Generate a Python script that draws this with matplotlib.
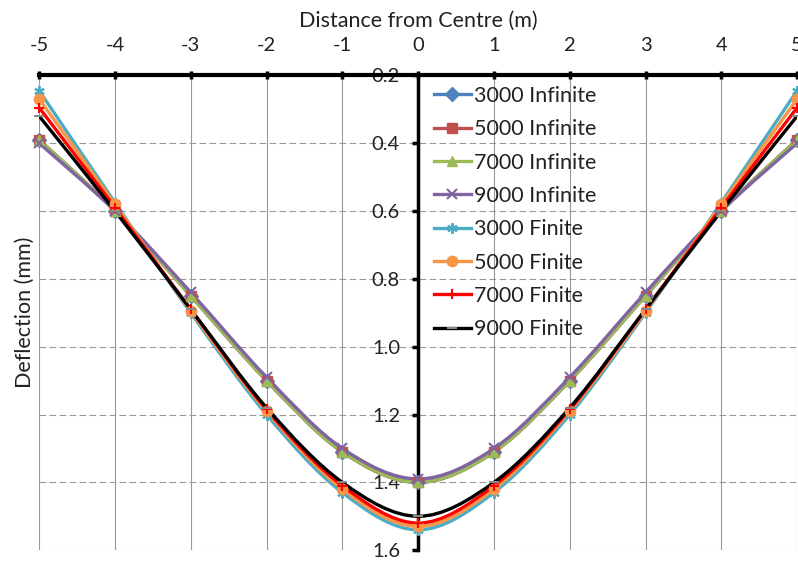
import numpy as np
import matplotlib.pyplot as plt
from matplotlib.path import Path
from matplotlib.patches import PathPatch
from matplotlib.lines import Line2D

plt.rcParams['font.family'] = ['Lato', 'DejaVu Sans']

distance = [-5, -4, -3, -2, -1, 0, 1, 2, 3, 4, 5]

inf_3000 = [0.39, 0.60, 0.85, 1.10, 1.31, 1.40, 1.31, 1.10, 0.85, 0.60, 0.39]
inf_5000 = [0.39, 0.60, 0.85, 1.10, 1.31, 1.40, 1.31, 1.10, 0.85, 0.60, 0.39]
inf_7000 = [0.39, 0.60, 0.85, 1.10, 1.31, 1.40, 1.31, 1.10, 0.85, 0.60, 0.39]
inf_9000 = [0.40, 0.60, 0.84, 1.09, 1.30, 1.39, 1.30, 1.09, 0.84, 0.60, 0.40]
fin_3000 = [0.245, 0.575, 0.90, 1.20, 1.43, 1.54, 1.43, 1.20, 0.90, 0.575, 0.245]
fin_5000 = [0.27, 0.58, 0.895, 1.19, 1.42, 1.53, 1.42, 1.19, 0.895, 0.58, 0.27]
fin_7000 = [0.295, 0.59, 0.89, 1.185, 1.41, 1.52, 1.41, 1.185, 0.89, 0.59, 0.295]
fin_9000 = [0.32, 0.60, 0.89, 1.18, 1.40, 1.50, 1.40, 1.18, 0.89, 0.60, 0.32]

labels = ['3000 Infinite', '5000 Infinite', '7000 Infinite', '9000 Infinite',
          '3000 Finite', '5000 Finite', '7000 Finite', '9000 Finite']
colors = ['#4F81BD', '#C0504D', '#9BBB59', '#8064A2',
          '#4BACC6', '#F79646', '#FF0000', '#000000']
markers = ['D', 's', '^', 'x', (6, 2, 0), 'o', '+', '_']
series = [inf_3000, inf_5000, inf_7000, inf_9000,
          fin_3000, fin_5000, fin_7000, fin_9000]


def smooth_path(xs, ys):
    # Catmull-Rom style bezier through the points, like a smoothed line
    pts = np.column_stack([xs, ys]).astype(float)
    n = len(pts)
    verts = [pts[0]]
    codes = [Path.MOVETO]
    for i in range(n - 1):
        p0 = pts[max(i - 1, 0)]
        p1 = pts[i]
        p2 = pts[i + 1]
        p3 = pts[min(i + 2, n - 1)]
        c1 = p1 + (p2 - p0) / 6.0
        c2 = p2 - (p3 - p1) / 6.0
        verts += [c1, c2, p2]
        codes += [Path.CURVE4] * 3
    return Path(verts, codes)


fig = plt.figure(figsize=(7.98, 5.62), dpi=100)
ax = fig.add_axes([0.049, 0.021, 0.95, 0.845])

handles = []
for ys, lab, c, m in zip(series, labels, colors, markers):
    patch = PathPatch(smooth_path(distance, ys), facecolor='none', edgecolor=c,
                      lw=2.4, zorder=3)
    ax.add_patch(patch)
    mec = '#888888' if m == '_' else c
    thin = m in ('x', '+', '_') or isinstance(m, tuple)
    ax.plot(distance, ys, ls='none', marker=m, color=c, mec=mec, ms=7.5,
            mew=1.5 if thin else 1, zorder=4, clip_on=False)
    handles.append(Line2D([], [], color=c, lw=2.4, marker=m, ms=7.5, mec=mec,
                          mew=1.5 if thin else 1))

ax.set_xlim(-5, 5)
ax.set_ylim(1.6, 0.2)
ax.set_xticks(distance)
ax.set_xticklabels([str(d) for d in distance])
ax.set_yticks([0.2, 0.4, 0.6, 0.8, 1.0, 1.2, 1.4, 1.6])
ax.set_yticklabels(['0.2', '0.4', '0.6', '0.8', '1.0', '1.2', '1.4', '1.6'])

ax.xaxis.tick_top()
ax.xaxis.set_label_position('top')
ax.set_xlabel('Distance from Centre (m)', fontsize=15.5, color='#222222', labelpad=8)
ax.set_ylabel('Deflection (mm)', fontsize=15.5, color='#222222')
ax.yaxis.set_label_coords(-0.005, 0.5)

for s in ['right', 'bottom']:
    ax.spines[s].set_visible(False)
ax.spines['left'].set_position(('data', 0))
ax.spines['left'].set_linewidth(2.5)
ax.spines['top'].set_linewidth(3)
ax.tick_params(axis='x', direction='inout', length=6, width=2.5, labelsize=14.5,
               pad=12, labelcolor='#222222')
ax.tick_params(axis='y', direction='out', length=4, width=2.5, labelsize=14.5,
               pad=9, labelcolor='#222222')

ax.xaxis.grid(True, color='#999999', lw=0.8, ls='-')
ax.yaxis.grid(True, color='#999999', lw=0.8, ls=(0, (6, 3)))
ax.set_axisbelow(True)

ax.legend(handles, labels, loc='upper left', bbox_to_anchor=(0.509, 0.996),
          frameon=False, fontsize=15.5, labelspacing=0.62, handlelength=1.75,
          handletextpad=0.15, borderaxespad=0, labelcolor='#222222')

fig.savefig('out.png', dpi=100)
